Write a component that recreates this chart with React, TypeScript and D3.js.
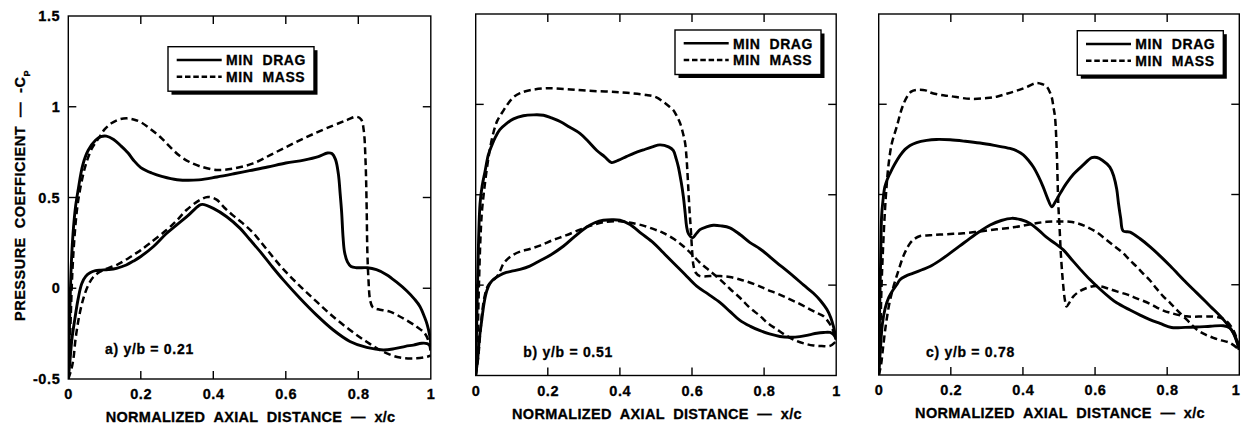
import React from 'react';
import * as d3 from 'd3';

type Pt = [number, number];

// ---------- tick labels / texts ----------
const xTickValues = [0, 0.2, 0.4, 0.6, 0.8, 1];
const xTickLabels = ['0', '0.2', '0.4', '0.6', '0.8', '1'];
const yTickValues = [-0.5, 0, 0.5, 1, 1.5];
const yTickLabels = ['-0.5', '0', '0.5', '1', '1.5'];
const legendLabels = ['MIN  DRAG', 'MIN  MASS'];
const panelLabels = ['a) y/b = 0.21', 'b) y/b = 0.51', 'c) y/b = 0.78'];
const xTitle = 'NORMALIZED  AXIAL  DISTANCE  —  x/c';
const yTitle = 'PRESSURE  COEFFICIENT  —  -C';
const yTitleSub = 'P';

// ---------- panel a) y/b = 0.21 ----------
const aDragUpper: Pt[] = [
  [0, -0.5], [0.004, -0.15], [0.008, 0.12], [0.013, 0.3], [0.02, 0.45], [0.027, 0.54], [0.04, 0.68],
  [0.055, 0.76], [0.075, 0.815], [0.09, 0.835], [0.105, 0.838], [0.125, 0.82], [0.145, 0.785],
  [0.165, 0.745], [0.18, 0.705], [0.2, 0.665], [0.23, 0.635], [0.26, 0.615], [0.3, 0.598],
  [0.36, 0.597], [0.41, 0.613], [0.46, 0.632], [0.5, 0.648], [0.55, 0.668], [0.6, 0.69],
  [0.65, 0.706], [0.69, 0.725], [0.715, 0.745], [0.727, 0.742], [0.737, 0.71], [0.745, 0.63],
  [0.75, 0.52], [0.754, 0.42], [0.758, 0.28], [0.762, 0.2], [0.77, 0.145], [0.78, 0.12],
  [0.795, 0.113], [0.825, 0.113], [0.85, 0.102], [0.878, 0.075], [0.905, 0.035], [0.934, -0.015],
  [0.955, -0.06], [0.97, -0.1], [0.983, -0.16], [0.99, -0.2], [0.997, -0.26], [1, -0.31],
];
const aDragLower: Pt[] = [
  [0, -0.5], [0.005, -0.39], [0.01, -0.28], [0.018, -0.17], [0.027, -0.06], [0.037, 0.025],
  [0.048, 0.065], [0.06, 0.085], [0.075, 0.097], [0.09, 0.1], [0.11, 0.103], [0.133, 0.11],
  [0.16, 0.128], [0.18, 0.15], [0.2, 0.175], [0.235, 0.23], [0.27, 0.3], [0.3, 0.35], [0.33, 0.4],
  [0.36, 0.455], [0.37, 0.462], [0.4, 0.44], [0.437, 0.394], [0.474, 0.33], [0.5, 0.27],
  [0.53, 0.2], [0.56, 0.125], [0.593, 0.046], [0.639, -0.055], [0.685, -0.148], [0.731, -0.23],
  [0.777, -0.293], [0.823, -0.326], [0.869, -0.34], [0.9, -0.333], [0.93, -0.32], [0.952, -0.313],
  [0.975, -0.303], [0.99, -0.305], [1, -0.32],
];
const aMassUpper: Pt[] = [
  [0, -0.5], [0.006, -0.2], [0.011, 0.08], [0.017, 0.28], [0.025, 0.45], [0.035, 0.57],
  [0.048, 0.68], [0.065, 0.77], [0.085, 0.83], [0.1, 0.875], [0.12, 0.91], [0.14, 0.93],
  [0.161, 0.936], [0.18, 0.93], [0.2, 0.915], [0.225, 0.88], [0.253, 0.835], [0.28, 0.78],
  [0.308, 0.728], [0.335, 0.695], [0.363, 0.672], [0.409, 0.652], [0.455, 0.66], [0.51, 0.688],
  [0.566, 0.743], [0.621, 0.798], [0.676, 0.85], [0.731, 0.897], [0.768, 0.926], [0.795, 0.945],
  [0.808, 0.93], [0.815, 0.87], [0.82, 0.7], [0.823, 0.45], [0.825, 0.2], [0.828, 0.05],
  [0.833, -0.07], [0.84, -0.105], [0.855, -0.116], [0.887, -0.129], [0.924, -0.166],
  [0.961, -0.212], [0.984, -0.25], [0.995, -0.3], [1, -0.36],
];
const aMassLower: Pt[] = [
  [0, -0.5], [0.008, -0.45], [0.014, -0.39], [0.02, -0.28], [0.028, -0.175], [0.037, -0.09],
  [0.046, -0.028], [0.057, 0.025], [0.069, 0.062], [0.083, 0.085], [0.097, 0.1], [0.115, 0.115],
  [0.133, 0.128], [0.155, 0.152], [0.179, 0.183], [0.2, 0.21], [0.225, 0.248], [0.271, 0.321],
  [0.3, 0.375], [0.326, 0.431], [0.363, 0.486], [0.385, 0.503], [0.409, 0.488], [0.43, 0.445],
  [0.455, 0.4], [0.48, 0.36], [0.51, 0.305], [0.547, 0.215], [0.593, 0.105], [0.639, 0.012],
  [0.685, -0.074], [0.731, -0.157], [0.777, -0.23], [0.823, -0.295], [0.869, -0.35],
  [0.915, -0.382], [0.961, -0.386], [0.99, -0.377], [1, -0.37],
];

// ---------- panel b) y/b = 0.51 ----------
const bDragUpper: Pt[] = [
  [0, -0.5], [0.004, -0.1], [0.008, 0.25], [0.012, 0.45], [0.018, 0.55], [0.026, 0.63],
  [0.035, 0.72], [0.044, 0.77], [0.055, 0.82], [0.067, 0.86], [0.086, 0.895], [0.105, 0.92],
  [0.132, 0.937], [0.16, 0.942], [0.188, 0.94], [0.21, 0.925], [0.234, 0.905], [0.26, 0.875],
  [0.289, 0.84], [0.31, 0.8], [0.336, 0.745], [0.358, 0.71], [0.377, 0.678], [0.395, 0.69],
  [0.419, 0.712], [0.44, 0.73], [0.465, 0.748], [0.49, 0.765], [0.511, 0.776], [0.535, 0.765],
  [0.548, 0.745], [0.556, 0.7], [0.562, 0.656], [0.57, 0.57], [0.576, 0.49], [0.581, 0.4],
  [0.585, 0.325], [0.59, 0.285], [0.602, 0.262], [0.612, 0.285], [0.622, 0.307], [0.64, 0.322],
  [0.659, 0.331], [0.68, 0.328], [0.705, 0.317], [0.733, 0.28], [0.761, 0.235], [0.789, 0.2],
  [0.835, 0.125], [0.881, 0.05], [0.91, 0.0], [0.937, -0.045], [0.956, -0.085], [0.974, -0.134],
  [0.985, -0.18], [0.992, -0.226], [0.997, -0.27], [1, -0.3],
];
const bDragLower: Pt[] = [
  [0, -0.5], [0.006, -0.4], [0.01, -0.3], [0.017, -0.19], [0.024, -0.09], [0.031, -0.03],
  [0.04, 0.01], [0.05, 0.033], [0.067, 0.055], [0.085, 0.07], [0.1, 0.077], [0.123, 0.087],
  [0.15, 0.105], [0.178, 0.135], [0.21, 0.17], [0.243, 0.215], [0.275, 0.27], [0.308, 0.322],
  [0.33, 0.345], [0.354, 0.359], [0.38, 0.362], [0.4, 0.359], [0.428, 0.335], [0.46, 0.285],
  [0.493, 0.234], [0.52, 0.18], [0.548, 0.124], [0.58, 0.06], [0.613, -0.006], [0.645, -0.05],
  [0.678, -0.097], [0.705, -0.145], [0.733, -0.195], [0.762, -0.228], [0.789, -0.252],
  [0.815, -0.27], [0.844, -0.284], [0.87, -0.288], [0.899, -0.285], [0.925, -0.275],
  [0.946, -0.266], [0.965, -0.262], [0.983, -0.262], [0.993, -0.275], [1, -0.3],
];
const bMassUpper: Pt[] = [
  [0, -0.5], [0.005, -0.3], [0.009, 0.0], [0.013, 0.25], [0.017, 0.4], [0.022, 0.5],
  [0.028, 0.6], [0.035, 0.7], [0.042, 0.78], [0.05, 0.85], [0.06, 0.91], [0.075, 0.96],
  [0.09, 1.005], [0.105, 1.04], [0.123, 1.062], [0.15, 1.078], [0.197, 1.089], [0.25, 1.085],
  [0.308, 1.076], [0.4, 1.067], [0.474, 1.052], [0.5, 1.04], [0.52, 1.015], [0.536, 0.99],
  [0.548, 0.969], [0.558, 0.935], [0.567, 0.896], [0.575, 0.84], [0.581, 0.785], [0.585, 0.7],
  [0.588, 0.6], [0.593, 0.418], [0.597, 0.3], [0.6, 0.2], [0.604, 0.11], [0.61, 0.07],
  [0.622, 0.05], [0.65, 0.05], [0.678, 0.05], [0.705, 0.045], [0.733, 0.031], [0.752, 0.02],
  [0.78, 0.0], [0.807, -0.024], [0.84, -0.05], [0.872, -0.079], [0.9, -0.105], [0.927, -0.134],
  [0.948, -0.155], [0.964, -0.171], [0.983, -0.217], [0.993, -0.26], [1, -0.3],
];
const bMassLower: Pt[] = [
  [0, -0.5], [0.007, -0.4], [0.012, -0.28], [0.018, -0.15], [0.025, -0.06], [0.035, 0.0],
  [0.05, 0.03], [0.06, 0.05], [0.068, 0.08], [0.076, 0.115], [0.086, 0.14], [0.1, 0.163],
  [0.123, 0.185], [0.15, 0.2], [0.18, 0.22], [0.215, 0.25], [0.25, 0.275], [0.289, 0.307],
  [0.32, 0.33], [0.354, 0.348], [0.4, 0.354], [0.43, 0.345], [0.465, 0.329], [0.5, 0.305],
  [0.52, 0.289], [0.55, 0.255], [0.576, 0.215], [0.6, 0.17], [0.622, 0.124], [0.65, 0.078],
  [0.678, 0.031], [0.705, -0.02], [0.733, -0.07], [0.76, -0.125], [0.789, -0.171], [0.81, -0.21],
  [0.835, -0.244], [0.862, -0.28], [0.89, -0.309], [0.915, -0.325], [0.937, -0.334],
  [0.96, -0.337], [0.983, -0.336], [1, -0.31],
];

// ---------- panel c) y/b = 0.78 ----------
const cDragUpper: Pt[] = [
  [0, -0.5], [0.003, -0.1], [0.006, 0.2], [0.008, 0.377], [0.012, 0.47], [0.017, 0.542],
  [0.024, 0.585], [0.031, 0.616], [0.045, 0.67], [0.059, 0.715], [0.073, 0.75], [0.087, 0.772],
  [0.105, 0.788], [0.133, 0.8], [0.16, 0.805], [0.198, 0.803], [0.24, 0.795], [0.281, 0.785],
  [0.32, 0.772], [0.364, 0.755], [0.385, 0.74], [0.401, 0.72], [0.415, 0.69], [0.429, 0.652],
  [0.443, 0.6], [0.456, 0.542], [0.468, 0.48], [0.48, 0.432], [0.49, 0.46], [0.503, 0.505],
  [0.52, 0.56], [0.54, 0.612], [0.565, 0.66], [0.591, 0.704], [0.605, 0.705], [0.62, 0.69],
  [0.641, 0.652], [0.652, 0.6], [0.66, 0.53], [0.665, 0.45], [0.671, 0.37], [0.678, 0.298],
  [0.697, 0.292], [0.725, 0.255], [0.752, 0.211], [0.78, 0.16], [0.808, 0.105], [0.854, 0.01],
  [0.882, -0.045], [0.92, -0.12], [0.956, -0.193], [0.983, -0.266], [1, -0.36],
];
const cDragLower: Pt[] = [
  [0, -0.5], [0.005, -0.35], [0.01, -0.22], [0.018, -0.13], [0.028, -0.07], [0.041, -0.025],
  [0.05, 0.0], [0.059, 0.028], [0.075, 0.048], [0.096, 0.064], [0.12, 0.083], [0.142, 0.101],
  [0.17, 0.135], [0.198, 0.175], [0.225, 0.215], [0.253, 0.257], [0.28, 0.295], [0.309, 0.331],
  [0.34, 0.356], [0.369, 0.368], [0.395, 0.36], [0.42, 0.34], [0.445, 0.3], [0.466, 0.262],
  [0.49, 0.228], [0.512, 0.193], [0.535, 0.14], [0.558, 0.088], [0.585, 0.03], [0.614, -0.025],
  [0.64, -0.07], [0.66, -0.1], [0.697, -0.14], [0.725, -0.168], [0.752, -0.193], [0.78, -0.214],
  [0.812, -0.237], [0.85, -0.236], [0.882, -0.234], [0.92, -0.23], [0.956, -0.227],
  [0.974, -0.24], [0.985, -0.27], [0.993, -0.31], [1, -0.36],
];
const cMassUpper: Pt[] = [
  [0, -0.5], [0.004, -0.3], [0.008, 0.0], [0.012, 0.2], [0.017, 0.4], [0.022, 0.55],
  [0.027, 0.66], [0.036, 0.78], [0.05, 0.875], [0.064, 0.975], [0.078, 1.04], [0.09, 1.07],
  [0.105, 1.08], [0.13, 1.077], [0.142, 1.066], [0.17, 1.052], [0.198, 1.045], [0.253, 1.03],
  [0.3, 1.034], [0.327, 1.042], [0.355, 1.058], [0.383, 1.075], [0.41, 1.095], [0.438, 1.118],
  [0.455, 1.11], [0.466, 1.097], [0.475, 1.065], [0.48, 1.038], [0.485, 0.98], [0.489, 0.928],
  [0.494, 0.726], [0.498, 0.45], [0.502, 0.3], [0.505, 0.175], [0.509, 0.06], [0.512, -0.009],
  [0.516, -0.08], [0.521, -0.12], [0.53, -0.095], [0.54, -0.064], [0.558, -0.035],
  [0.577, -0.018], [0.595, -0.008], [0.614, -0.009], [0.635, -0.02], [0.66, -0.037],
  [0.69, -0.055], [0.715, -0.075], [0.752, -0.105], [0.78, -0.135], [0.808, -0.155],
  [0.854, -0.175], [0.9, -0.176], [0.928, -0.176], [0.95, -0.185], [0.965, -0.202],
  [0.983, -0.25], [0.993, -0.3], [1, -0.36],
];
const cMassLower: Pt[] = [
  [0, -0.5], [0.006, -0.45], [0.012, -0.35], [0.02, -0.22], [0.03, -0.1], [0.041, -0.01],
  [0.055, 0.08], [0.068, 0.157], [0.078, 0.2], [0.087, 0.23], [0.1, 0.255], [0.115, 0.27],
  [0.142, 0.274], [0.17, 0.278], [0.207, 0.282], [0.235, 0.285], [0.28, 0.295], [0.327, 0.307],
  [0.373, 0.318], [0.41, 0.331], [0.44, 0.342], [0.466, 0.349], [0.5, 0.351], [0.53, 0.349],
  [0.555, 0.338], [0.577, 0.321], [0.605, 0.29], [0.632, 0.248], [0.655, 0.212], [0.678, 0.175],
  [0.697, 0.135], [0.715, 0.101], [0.732, 0.065], [0.752, 0.025], [0.77, -0.02], [0.789, -0.064],
  [0.808, -0.1], [0.826, -0.138], [0.855, -0.195], [0.882, -0.248], [0.905, -0.275],
  [0.928, -0.294], [0.95, -0.308], [0.974, -0.322], [1, -0.36],
];

const panelSeries = [
  { drag: [aDragUpper, aDragLower], mass: [aMassUpper, aMassLower] },
  { drag: [bDragUpper, bDragLower], mass: [bMassUpper, bMassLower] },
  { drag: [cDragUpper, cDragLower], mass: [cMassUpper, cMassLower] },
];

// ---------- layout (pixels) ----------
const W = 1241;
const H = 425;
const layouts = [
  { left: 68.3, right: 430.8, top: 16, bottom: 379, lx: 168, ly: 46.7, tx: 105, ty: 353.5, yLabels: true },
  { left: 475.7, right: 836.2, top: 14, bottom: 375.5, lx: 675, ly: 30, tx: 523.3, ty: 356.7, yLabels: false },
  { left: 878.7, right: 1239.3, top: 14, bottom: 375, lx: 1077.3, ly: 30.7, tx: 926, ty: 356.7, yLabels: false },
];

const FONT = '"Liberation Sans", Arial, Helvetica, sans-serif';
const SOLID_W = 2.9;
const DASH_W = 2.5;
const DASH = '7 4';
const TXT_STROKE = 0.3;

function Panel({ idx }: { idx: number }) {
  const L = layouts[idx];
  const S = panelSeries[idx];
  const x = d3.scaleLinear().domain([0, 1]).range([L.left, L.right]);
  const y = d3.scaleLinear().domain([-0.5, 1.5]).range([L.bottom, L.top]);
  const line = d3
    .line<Pt>()
    .x((d) => x(d[0]))
    .y((d) => y(d[1]))
    .curve(d3.curveCatmullRom.alpha(0.5));
  const clipId = `clip${idx}`;
  const tl = 8;
  const innerX = xTickValues.filter((v) => v > 0 && v < 1);
  const innerY = yTickValues.filter((v) => v > -0.5 && v < 1.5);
  const lw = 146;
  const lh = 44.5;
  const cx = (L.left + L.right) / 2 + 1;
  const textProps = {
    fontFamily: FONT,
    fontWeight: 'bold' as const,
    xmlSpace: 'preserve' as const,
    stroke: '#000',
    strokeWidth: TXT_STROKE,
    fill: '#000',
  };

  return (
    <g>
      <defs>
        <clipPath id={clipId}>
          <rect x={L.left} y={L.top} width={L.right - L.left} height={L.bottom - L.top} />
        </clipPath>
      </defs>
      {/* curves */}
      <g clipPath={`url(#${clipId})`} fill="none" stroke="#000" strokeLinejoin="round">
        {S.mass.map((s, i) => (
          <path key={'m' + i} d={line(s) || ''} strokeWidth={DASH_W} strokeDasharray={DASH} />
        ))}
        {S.drag.map((s, i) => (
          <path key={'d' + i} d={line(s) || ''} strokeWidth={SOLID_W} />
        ))}
      </g>
      {/* frame */}
      <rect x={L.left} y={L.top} width={L.right - L.left} height={L.bottom - L.top} fill="none" stroke="#000" strokeWidth={1.4} />
      {/* ticks */}
      <g stroke="#000" strokeWidth={1.4}>
        {innerX.map((v) => (
          <g key={'xt' + v}>
            <line x1={x(v)} x2={x(v)} y1={L.bottom} y2={L.bottom - tl} />
            <line x1={x(v)} x2={x(v)} y1={L.top} y2={L.top + tl} />
          </g>
        ))}
        {innerY.map((v) => (
          <g key={'yt' + v}>
            <line x1={L.left} x2={L.left + tl} y1={y(v)} y2={y(v)} />
            <line x1={L.right} x2={L.right - tl} y1={y(v)} y2={y(v)} />
          </g>
        ))}
      </g>
      {/* x tick labels */}
      {xTickValues.map((v, i) => {
        const px = x(v) + 0.4;
        const atEdge = px + 5 > W;
        return (
          <text
            key={'xl' + i}
            {...textProps}
            fontSize={14.5}
            letterSpacing="0.6px"
            textAnchor={atEdge ? 'end' : 'middle'}
            x={atEdge ? W - 0.5 : px}
            y={L.bottom + 20}
          >
            {xTickLabels[i]}
          </text>
        );
      })}
      {L.yLabels &&
        yTickValues.map((v, i) => (
          <text key={'yl' + i} {...textProps} fontSize={14.5} letterSpacing="0.6px" textAnchor="end" x={L.left - 8} y={y(v) + 5}>
            {yTickLabels[i]}
          </text>
        ))}
      {/* x title */}
      <text {...textProps} x={cx} y={L.bottom + 43} textAnchor="middle" fontSize={14.5} letterSpacing="0.3px">
        {xTitle}
      </text>
      {/* panel label */}
      <text {...textProps} x={L.tx} y={L.ty} fontSize={14} letterSpacing="0.7px">
        {panelLabels[idx]}
      </text>
      {/* legend */}
      <g>
        <rect x={L.lx + 3.5} y={L.ly + 3.5} width={lw} height={lh} fill="#000" />
        <rect x={L.lx} y={L.ly} width={lw} height={lh} fill="#fff" stroke="#000" strokeWidth={1.4} />
        <line x1={L.lx + 8.7} x2={L.lx + 53.7} y1={L.ly + 13.3} y2={L.ly + 13.3} stroke="#000" strokeWidth={2.6} />
        <line x1={L.lx + 8.7} x2={L.lx + 53.7} y1={L.ly + 30} y2={L.ly + 30} stroke="#000" strokeWidth={2.4} strokeDasharray="5.5 2.8" />
        <text {...textProps} x={L.lx + 58} y={L.ly + 18.5} fontSize={14} letterSpacing="0.6px">
          {legendLabels[0]}
        </text>
        <text {...textProps} x={L.lx + 58} y={L.ly + 35.2} fontSize={14} letterSpacing="0.6px">
          {legendLabels[1]}
        </text>
      </g>
    </g>
  );
}

export default function App() {
  return (
    <svg
      width={W}
      height={H}
      viewBox={`0 0 ${W} ${H}`}
      style={{ position: 'absolute', left: 0, top: 0, background: '#fff' }}
    >
      <rect x={0} y={0} width={W} height={H} fill="#fff" />
      {[0, 1, 2].map((i) => (
        <Panel key={i} idx={i} />
      ))}
      <text
        transform="translate(24.5,321) rotate(-90)"
        textAnchor="start"
        fontFamily={FONT}
        fontWeight="bold"
        fontSize={14.5}
        letterSpacing="0.5px"
        xmlSpace="preserve"
        stroke="#000"
        strokeWidth={TXT_STROKE}
      >
        {yTitle}
        <tspan fontSize={9} dy={5}>{yTitleSub}</tspan>
      </text>
    </svg>
  );
}
